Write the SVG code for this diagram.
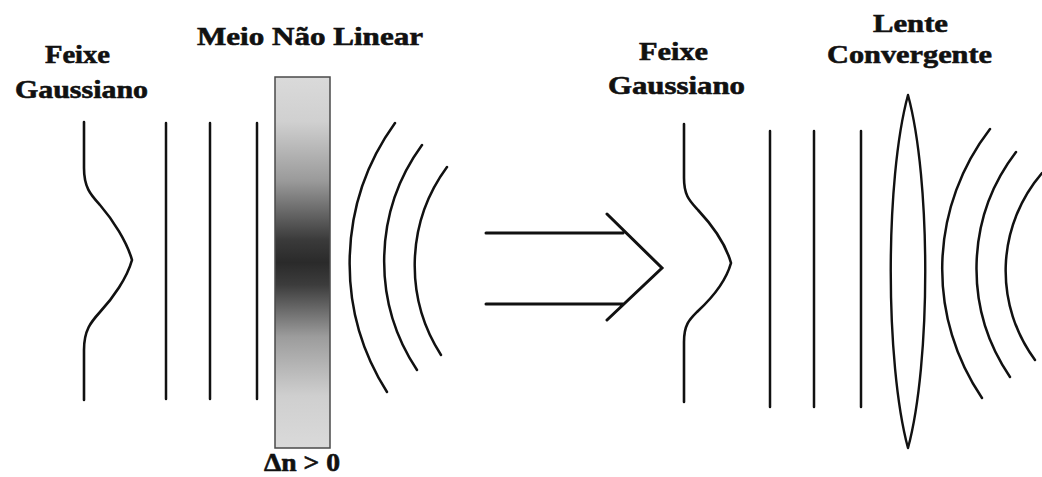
<svg xmlns="http://www.w3.org/2000/svg" width="1042" height="477" viewBox="0 0 1042 477">
  <style>
    .lbl { font-family: "Liberation Serif", "Times New Roman", serif; font-weight: bold; font-size: 26px; fill: #111; stroke: #111; stroke-width: 0.6; }
    .wave { fill: none; stroke: #111; stroke-width: 2.6; stroke-linecap: round; }
    .front { fill: none; stroke: #111; stroke-width: 2.5; stroke-linecap: round; }
    .arrow { fill: none; stroke: #111; stroke-width: 3; stroke-linecap: round; stroke-linejoin: miter; }
  </style>
  <defs>
    <linearGradient id="index" x1="0" y1="0" x2="0" y2="1">
      <stop offset="0" stop-color="#dadada"/>
      <stop offset="0.12" stop-color="#d0d0d0"/>
      <stop offset="0.28" stop-color="#9a9a9a"/>
      <stop offset="0.44" stop-color="#3a3a3a"/>
      <stop offset="0.50" stop-color="#2a2a2a"/>
      <stop offset="0.56" stop-color="#3c3c3c"/>
      <stop offset="0.70" stop-color="#9c9c9c"/>
      <stop offset="0.86" stop-color="#cfcfcf"/>
      <stop offset="1" stop-color="#dadada"/>
    </linearGradient>
  </defs>
  <rect width="1042" height="477" fill="#ffffff"/>

  <!-- left panel: beam entering the nonlinear medium -->
  <g id="beam-left">
    <text class="lbl" x="45" y="63" textLength="65" lengthAdjust="spacingAndGlyphs">Feixe</text>
    <text class="lbl" x="15" y="98" textLength="133" lengthAdjust="spacingAndGlyphs">Gaussiano</text>
    <path class="wave" d="M84,122 L84,168 C84,188 91,195 100,205 C113,220 127,242 132,260 C127,278 113,298 100,312 C91,322 84,330 84,350 L84,400"/>
  </g>

  <g id="fronts-left">
    <line class="front" x1="166" y1="123" x2="166" y2="399"/>
    <line class="front" x1="210" y1="123" x2="210" y2="399"/>
    <line class="front" x1="257" y1="123" x2="257" y2="399"/>
  </g>

  <g id="medium">
    <text class="lbl" x="197" y="45" textLength="226" lengthAdjust="spacingAndGlyphs">Meio Não Linear</text>
    <rect x="275" y="77" width="55" height="371" fill="url(#index)" stroke="#4a4a4a" stroke-width="1.5"/>
    <text class="lbl" x="264" y="471" font-size="25" textLength="76" lengthAdjust="spacingAndGlyphs">Δn &gt; 0</text>
  </g>

  <g id="focused-left">
    <path class="front" d="M395,123 A240,240 0 0 0 387,392"/>
    <path class="front" d="M422,145 A197,197 0 0 0 417,370"/>
    <path class="front" d="M447,167 A166,166 0 0 0 441,355"/>
  </g>

  <!-- equivalence arrow -->
  <g id="connectors">
    <path class="arrow" d="M486,233 L623,233 M486,304 L623,304 M607,214 L662,268 L607,320"/>
  </g>

  <!-- right panel: equivalent converging lens -->
  <g id="beam-right">
    <text class="lbl" x="639" y="60" textLength="69" lengthAdjust="spacingAndGlyphs">Feixe</text>
    <text class="lbl" x="608" y="94" textLength="137" lengthAdjust="spacingAndGlyphs">Gaussiano</text>
    <path class="wave" d="M684,124 L684,178 C684,196 690,201 698,210 C712,225 726,245 731,263 C726,281 712,298 698,311 C690,319 684,324 684,342 L684,402"/>
  </g>

  <g id="fronts-right">
    <line class="front" x1="770" y1="131" x2="770" y2="407"/>
    <line class="front" x1="814" y1="131" x2="814" y2="407"/>
    <line class="front" x1="861" y1="131" x2="861" y2="407"/>
  </g>

  <g id="lens">
    <text class="lbl" x="873" y="32" textLength="75" lengthAdjust="spacingAndGlyphs">Lente</text>
    <text class="lbl" x="827" y="63" textLength="165" lengthAdjust="spacingAndGlyphs">Convergente</text>
    <path fill="none" stroke="#111" stroke-width="2.4" stroke-linejoin="round" d="M908,95 C931,180 931,362 908,448 C885,362 885,180 908,95 Z"/>
  </g>

  <g id="focused-right">
    <path class="front" d="M990,129 A229,229 0 0 0 982,398"/>
    <path class="front" d="M1016,152 A192,192 0 0 0 1010,377"/>
    <path class="front" d="M1042,173 A150,150 0 0 0 1035,360"/>
  </g>
</svg>
